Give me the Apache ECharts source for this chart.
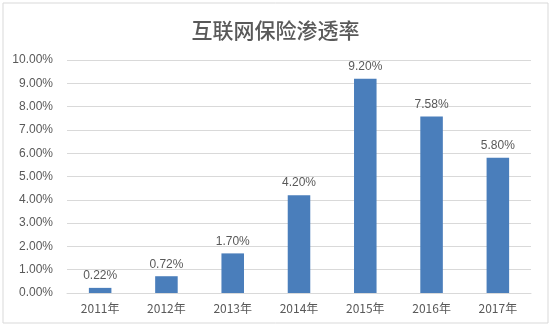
<!DOCTYPE html>
<html><head><meta charset="utf-8">
<script src="https://cdn.jsdelivr.net/npm/echarts@6/dist/echarts.min.js"></script>
<style>html,body{margin:0;padding:0;background:#fff;}#c{width:551px;height:330px;}</style>
</head><body><div id="c"></div>
<script>
const titleText = '互联网保险渗透率';
const categories = ['2011年','2012年','2013年','2014年','2015年','2016年','2017年'];
const values = [0.22, 0.72, 1.70, 4.20, 9.20, 7.58, 5.80];
const yMin = 0, yMax = 10, yInterval = 1;

const chart = echarts.init(document.getElementById('c'), null, {renderer:'canvas'});
chart.setOption({
  backgroundColor:'#fff',
  animation:false,
  title:{text:titleText,left:'center',top:15,
    textStyle:{fontFamily:'Noto Sans CJK SC',fontSize:21,fontWeight:500,color:'#595959'}},
  graphic:[{type:'rect',shape:{x:3,y:3,width:545,height:320},
    style:{fill:'none',stroke:'#d9d9d9',lineWidth:1},silent:true}],
  grid:{left:67,right:20,top:60,bottom:37,containLabel:false},
  xAxis:{type:'category',data:categories,
    axisLine:{lineStyle:{color:'#d9d9d9'}},axisTick:{show:false},
    axisLabel:{color:'#595959',fontSize:12,fontFamily:'Noto Sans CJK SC',margin:9}},
  yAxis:{type:'value',min:yMin,max:yMax,interval:yInterval,
    axisLine:{show:false},axisTick:{show:false},
    splitLine:{lineStyle:{color:'#d9d9d9'}},
    axisLabel:{color:'#595959',fontSize:12,fontFamily:'Liberation Sans',margin:14,
      formatter:v=>v.toFixed(2)+'%'}},
  series:[{type:'bar',data:values,barWidth:'34%',
    itemStyle:{color:'#4a7ebb'},
    label:{show:true,position:'top',distance:6,color:'#595959',fontSize:12,fontFamily:'Liberation Sans',
      formatter:p=>p.value.toFixed(2)+'%'}}]
});
</script></body></html>
